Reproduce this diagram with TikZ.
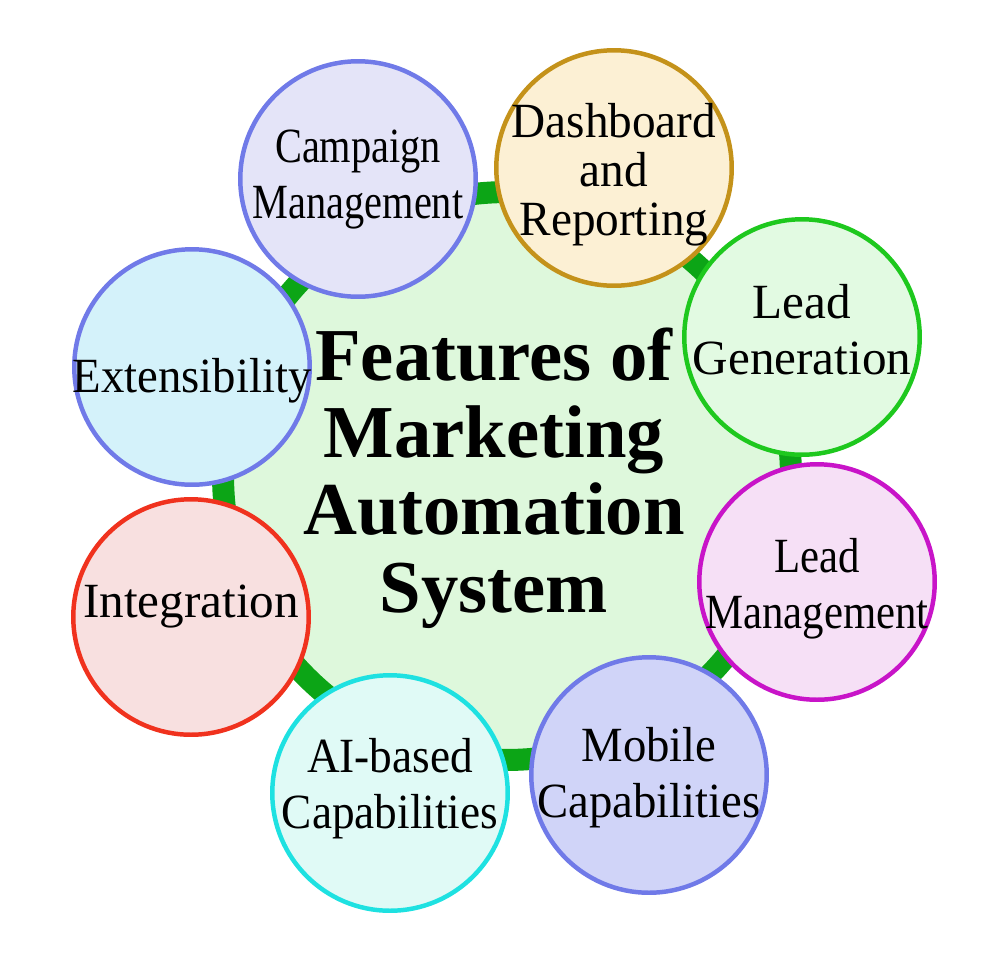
\documentclass[tikz,border=0pt]{standalone}
\usepackage{fontspec}
\setmainfont{Liberation Serif}
\usepackage{tikz, graphicx}
\definecolor{ringgreen}{RGB}{12,165,22}
\definecolor{hubfill}{RGB}{222,248,220}
\definecolor{campfill}{RGB}{228,228,248}
\definecolor{campdraw}{RGB}{112,122,232}
\definecolor{dashfill}{RGB}{252,240,212}
\definecolor{dashdraw}{RGB}{196,146,26}
\definecolor{genfill}{RGB}{226,250,226}
\definecolor{gendraw}{RGB}{30,200,30}
\definecolor{mgmtfill}{RGB}{246,224,246}
\definecolor{mgmtdraw}{RGB}{200,20,200}
\definecolor{mobfill}{RGB}{208,212,248}
\definecolor{mobdraw}{RGB}{112,122,232}
\definecolor{aifill}{RGB}{224,250,246}
\definecolor{aidraw}{RGB}{30,225,225}
\definecolor{integfill}{RGB}{248,224,224}
\definecolor{integdraw}{RGB}{240,50,30}
\definecolor{extfill}{RGB}{212,242,250}
\definecolor{extdraw}{RGB}{112,122,232}
\newcommand{\lbl}[3]{\makebox[0pt]{\raisebox{#2}[\height][\depth]{\scalebox{#1}[1]{\begin{tabular}{@{}c@{}}#3\end{tabular}}}}}

\begin{document}
\begin{tikzpicture}[x=0.02cm, y=-0.02cm,
		feat/.style={circle, draw, line width=2.55pt, minimum size=4.71cm, inner sep=0pt, font=\fontsize{28}{32}\selectfont},
		hub/.style={circle, draw=ringgreen, fill=hubfill, line width=0.44cm, minimum size=11.36cm, inner sep=0pt},
		title/.style={font=\bfseries\fontsize{42.5}{44}\selectfont, align=center}]
		%Bildbereich
		\useasboundingbox (0,0) rectangle (1000,968);
		%Mittelkreis zeichnen
		\node[hub] (hub) at (507,476) {};
		\node[title] (title) at (494,478) {Features of\\Marketing\\Automation\\System};
		%Aeussere Kreise
		\node[feat, fill=campfill, draw=campdraw] (camp) at (358,179) {\lbl{0.82}{0pt}{Campaign\\Management}};
		\node[feat, fill=dashfill, draw=dashdraw] (dash) at (614,168) {\renewcommand{\arraystretch}{0.875}\lbl{0.96}{-5pt}{Dashboard\\and\\Reporting}};
		\node[feat, fill=genfill, draw=gendraw] (leadgen) at (802,337) {\lbl{1.0}{1pt}{Lead\\Generation}};
		\node[feat, fill=mgmtfill, draw=mgmtdraw] (leadmgmt) at (817,582) {\lbl{0.87}{-4pt}{Lead\\Management}};
		\node[feat, fill=mobfill, draw=mobdraw] (mobile) at (649,775) {\lbl{0.95}{-2pt}{Mobile\\Capabilities}};
		\node[feat, fill=aifill, draw=aidraw] (aibased) at (390,793) {\lbl{0.92}{2pt}{AI-based\\Capabilities}};
		\node[feat, fill=integfill, draw=integdraw] (integ) at (191,617) {\lbl{1.0}{6pt}{Integration}};
		\node[feat, fill=extfill, draw=extdraw] (ext) at (192,367) {\lbl{0.95}{-8pt}{Extensibility}};
	\end{tikzpicture}
\end{document}
